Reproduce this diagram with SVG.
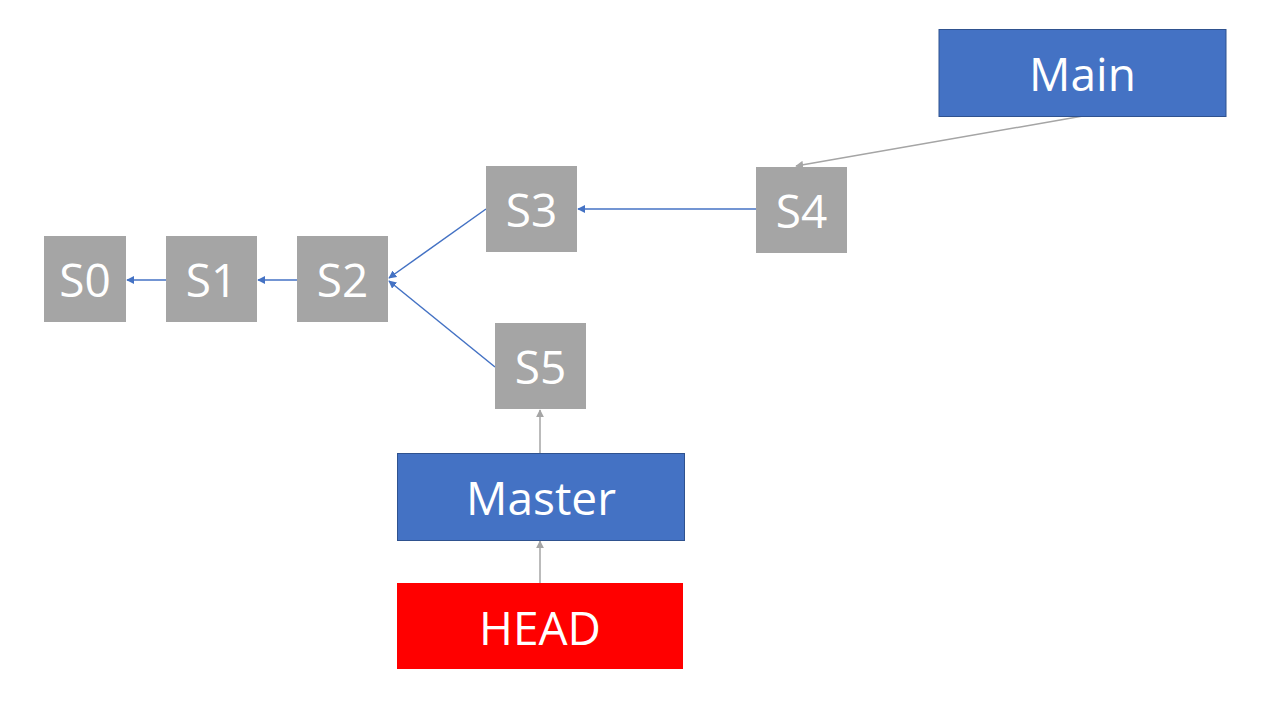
<svg xmlns="http://www.w3.org/2000/svg" width="1280" height="720" viewBox="0 0 1280 720">
<style>
.commit{fill:#A5A5A5}
.branch{fill:#4472C4;stroke:#2F528F;stroke-width:1}
.head{fill:#FF0000}
text{font-family:"Open Sans","Noto Sans",sans-serif;font-size:46px;fill:#FFFFFF;text-anchor:middle}
.blue{stroke:#4472C4;stroke-width:1.5;fill:none;marker-end:url(#ab)}
.grey{stroke:#A5A5A5;stroke-width:1.5;fill:none;marker-end:url(#ag)}
</style>
<defs>
<marker id="ab" viewBox="0 0 10 10" refX="9" refY="5" markerWidth="8" markerHeight="8" orient="auto" markerUnits="userSpaceOnUse"><path d="M0,0 L10,5 L0,10 z" fill="#4472C4"/></marker>
<marker id="ag" viewBox="0 0 10 10" refX="9" refY="5" markerWidth="8" markerHeight="8" orient="auto" markerUnits="userSpaceOnUse"><path d="M0,0 L10,5 L0,10 z" fill="#A5A5A5"/></marker>
</defs>
<rect width="1280" height="720" fill="#FFFFFF"/>
<g id="connectors">
<line class="blue" x1="166" y1="280" x2="127" y2="280"/>
<line class="blue" x1="297" y1="280" x2="258" y2="280"/>
<line class="blue" x1="486" y1="209" x2="389" y2="278"/>
<line class="blue" x1="495" y1="367" x2="389" y2="281"/>
<line class="blue" x1="756" y1="209" x2="578" y2="209"/>
<line class="grey" x1="1083" y1="116" x2="796" y2="166"/>
<line class="grey" x1="540" y1="453" x2="540" y2="410"/>
<line class="grey" x1="540" y1="583" x2="540" y2="541"/>
</g>
<g id="S0"><rect class="commit" x="44" y="236" width="82" height="86"/><text x="85" y="297">S0</text></g>
<g id="S1"><rect class="commit" x="166" y="236" width="91" height="86"/><text x="211.5" y="297">S1</text></g>
<g id="S2"><rect class="commit" x="297" y="236" width="91" height="86"/><text x="342.5" y="297">S2</text></g>
<g id="S3"><rect class="commit" x="486" y="166" width="91" height="86"/><text x="531.5" y="227">S3</text></g>
<g id="S4"><rect class="commit" x="756" y="167" width="91" height="86"/><text x="801.5" y="228">S4</text></g>
<g id="S5"><rect class="commit" x="495" y="323" width="91" height="86"/><text x="540.5" y="384">S5</text></g>
<g id="Main"><rect class="branch" x="939" y="29.5" width="287" height="87"/><text x="1082.5" y="91">Main</text></g>
<g id="Master"><rect class="branch" x="397.5" y="453.5" width="287" height="87"/><text x="541" y="515">Master</text></g>
<g id="HEAD"><rect class="head" x="397" y="583" width="286" height="86"/><text x="540" y="645">HEAD</text></g>
</svg>
